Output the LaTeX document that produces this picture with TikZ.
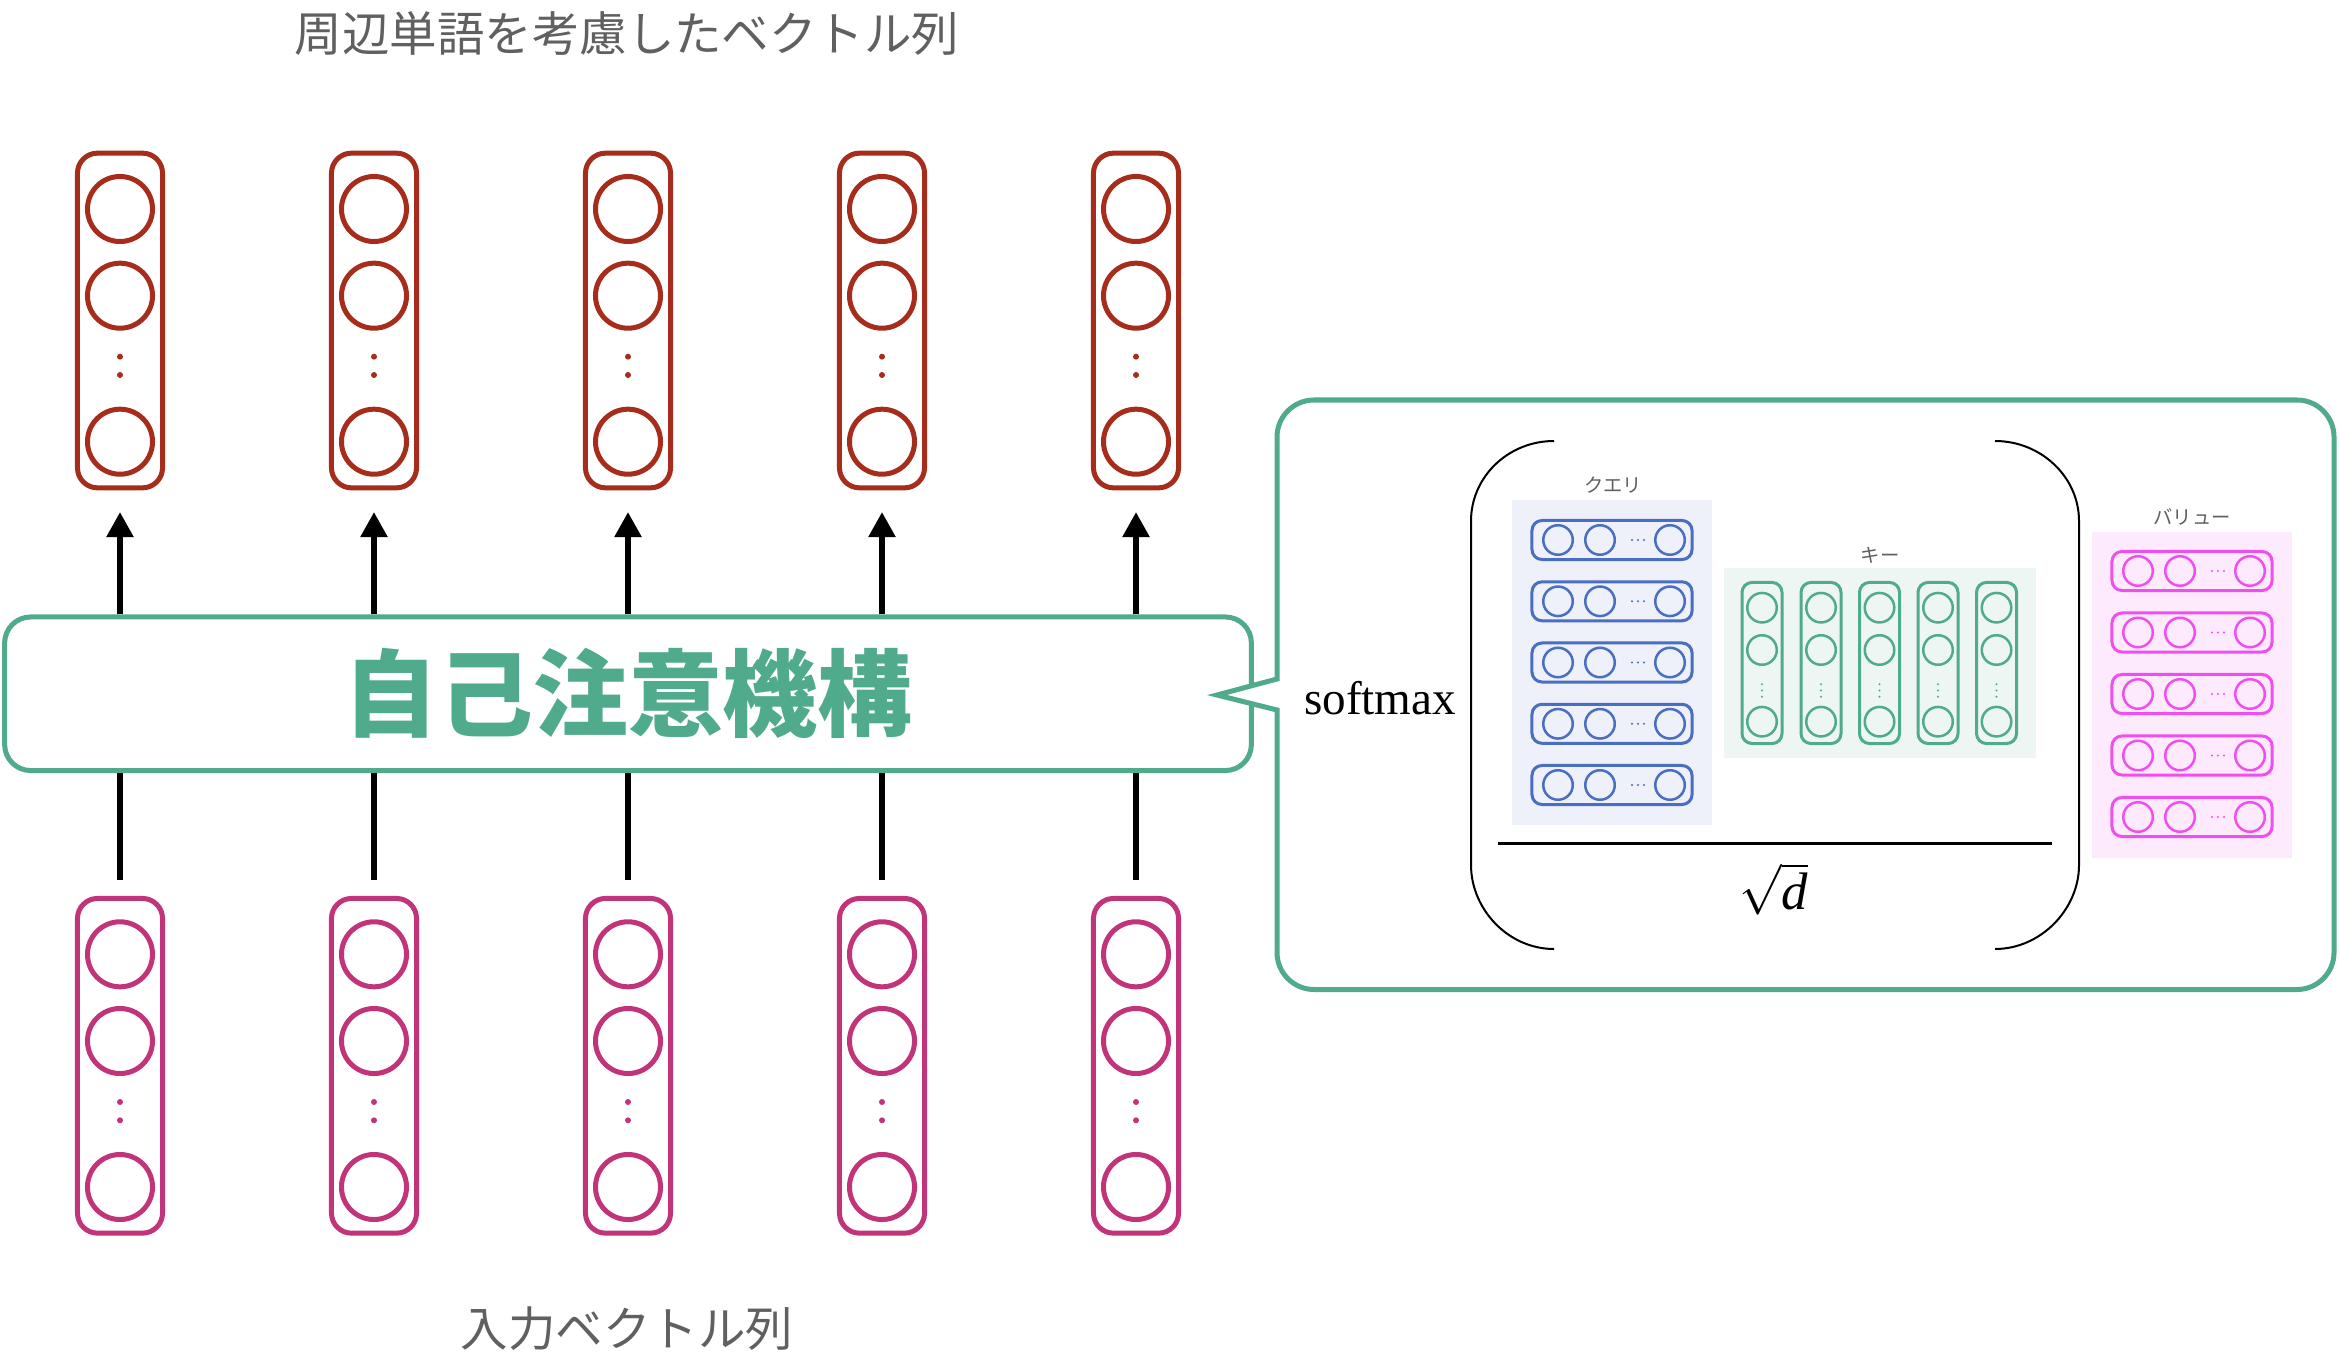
\documentclass[tikz,border=0pt]{standalone}
\usepackage{fontspec}
\newfontfamily\jp{Noto Sans CJK JP}
\newfontfamily\serif{Liberation Serif}
\usetikzlibrary{arrows.meta}
\definecolor{vecred}{HTML}{A62C1B}
\definecolor{vecpink}{HTML}{C2347A}
\definecolor{attgreen}{HTML}{50AA8C}
\definecolor{qblue}{HTML}{4A6EC2}
\definecolor{qback}{HTML}{EEF1F9}
\definecolor{kback}{HTML}{EDF6F2}
\definecolor{vmag}{HTML}{F04FF0}
\definecolor{vback}{HTML}{FDEAFD}
\definecolor{labelgray}{HTML}{606060}
\tikzset{
  bigvec/.style={draw, line width=0.05cm, rounded corners=0.2cm, minimum width=0.85cm, minimum height=3.345cm, inner sep=0},
  bigcell/.style={draw, circle, line width=0.05cm, minimum size=0.65cm, inner sep=0},
  bigdot/.style={fill, circle, minimum size=0.06cm, inner sep=0},
  smallcell/.style={draw, circle, line width=0.025cm, minimum size=0.295cm, inner sep=0},
  rowvec/.style={draw, line width=0.03cm, rounded corners=0.1cm, minimum width=1.6cm, minimum height=0.39cm, inner sep=0},
  colvec/.style={draw, line width=0.03cm, rounded corners=0.1cm, minimum width=0.4cm, minimum height=1.61cm, inner sep=0},
  smalllabel/.style={text=labelgray, font=\jp\fontsize{5.5}{6}\selectfont},
  biglabel/.style={text=labelgray, font=\jp\fontsize{13.5}{16}\selectfont},
  uparrow/.style={-{Triangle[width=0.26cm,length=0.25cm]}, line width=0.055cm, shorten >=0.217cm},
  downline/.style={line width=0.055cm, shorten <=0.16cm},
}
\begin{document}
\begin{tikzpicture}[x=0.01cm, y=-0.01cm]
  \useasboundingbox (0,0) rectangle (2340,1364);
  \node[biglabel] (outlabel) at (627,34) {周辺単語を考慮したベクトル列};
  \node[biglabel] (inlabel) at (627,1329) {入力ベクトル列};
  \node[draw=attgreen, line width=0.05cm, rounded corners=0.26cm, minimum width=12.46cm, minimum height=1.535cm,
    text=attgreen, font=\jp\bfseries\fontsize{27}{30}\selectfont] (att) at (628,693.75) {自己注意機構};
  \foreach \i/\x in {1/120,2/374,3/628,4/882,5/1136} {
    \node[bigvec, vecred] (top\i) at (\x,320.5) {};
    \node[bigcell, vecred] (top\i a) at (\x,209) {};
    \node[bigcell, vecred] (top\i b) at (\x,295.7) {};
    \node[bigcell, vecred] (top\i c) at (\x,441.7) {};
    \node[bigdot, vecred] (top\i d) at (\x,356.7) {};
    \node[bigdot, vecred] (top\i e) at (\x,375) {};
    \node[bigvec, vecpink] (bot\i) at (\x,1065.8) {};
    \node[bigcell, vecpink] (bot\i a) at (\x,954.3) {};
    \node[bigcell, vecpink] (bot\i b) at (\x,1041) {};
    \node[bigcell, vecpink] (bot\i c) at (\x,1187) {};
    \node[bigdot, vecpink] (bot\i d) at (\x,1102) {};
    \node[bigdot, vecpink] (bot\i e) at (\x,1120.3) {};
    \draw[uparrow] (att.north -| top\i) -- (top\i.south);
    \draw[downline] (bot\i.north) -- (att.south -| bot\i);
  }
  \draw[draw=attgreen, fill=white, line width=0.05cm]
    (1217,695) -- (1277,710) -- (1277,800) [rounded corners=0.37cm] -- (1277,989.5) -- (2334,989.5)
    -- (2334,400) -- (1277,400) -- (1277,600) [sharp corners] -- (1277,679) -- cycle;
  \node[font=\serif\fontsize{13.4}{16}\selectfont] (softmax) at (1380,698) {softmax};
  \draw[line width=0.02cm] (1554,441) .. controls (1508,441) and (1471,477) .. (1471,521) -- (1471,865)
    .. controls (1471,909) and (1508,949) .. (1554,949);
  \draw[line width=0.02cm] (1995,441) .. controls (2041,441) and (2079,477) .. (2079,521) -- (2079,865)
    .. controls (2079,909) and (2041,949) .. (1995,949);
  \draw[line width=0.03cm] (1498,843) -- (2052,843);
  \node[font=\serif\fontsize{15}{18}\selectfont] (sqrtd) at (1774,889) {$\sqrt{\mbox{\serif\itshape d}}$};
  \node[fill=qback, minimum width=2cm, minimum height=3.25cm, inner sep=0] (qback) at (1612,662.5) {};
  \node[smalllabel] (qlabel) at (1613,485) {クエリ};
  \foreach \j/\y in {1/540,2/601.3,3/662.5,4/723.8,5/785} {
    \node[rowvec, qblue] (q\j) at (1612,\y) {};
    \node[smallcell, qblue] (q\j a) at (1558,\y) {};
    \node[smallcell, qblue] (q\j b) at (1600,\y) {};
    \node[smallcell, qblue] (q\j c) at (1670,\y) {};
    \foreach \d in {1632,1638,1644} \fill[qblue] (\d,\y) circle (1.1);
  }
  \node[fill=kback, minimum width=3.12cm, minimum height=1.9cm, inner sep=0] (kback) at (1880,663) {};
  \node[smalllabel] (klabel) at (1880,555) {キー};
  \foreach \j/\x in {1/1762,2/1821,3/1879.5,4/1938,5/1996.5} {
    \node[colvec, attgreen] (k\j) at (\x,663) {};
    \node[smallcell, attgreen] (k\j a) at (\x,607.7) {};
    \node[smallcell, attgreen] (k\j b) at (\x,650) {};
    \node[smallcell, attgreen] (k\j c) at (\x,721.7) {};
    \foreach \d in {684.3,690.5,696.7} \fill[attgreen] (\x,\d) circle (1.1);
  }
  \node[fill=vback, minimum width=2cm, minimum height=3.26cm, inner sep=0] (vback) at (2192,695) {};
  \node[smalllabel] (vlabel) at (2192,517) {バリュー};
  \foreach \j/\y in {1/571,2/632.5,3/694,4/755.5,5/817} {
    \node[rowvec, vmag] (v\j) at (2192,\y) {};
    \node[smallcell, vmag] (v\j a) at (2138,\y) {};
    \node[smallcell, vmag] (v\j b) at (2180,\y) {};
    \node[smallcell, vmag] (v\j c) at (2250,\y) {};
    \foreach \d in {2212,2218,2224} \fill[vmag] (\d,\y) circle (1.1);
  }
\end{tikzpicture}
\end{document}
